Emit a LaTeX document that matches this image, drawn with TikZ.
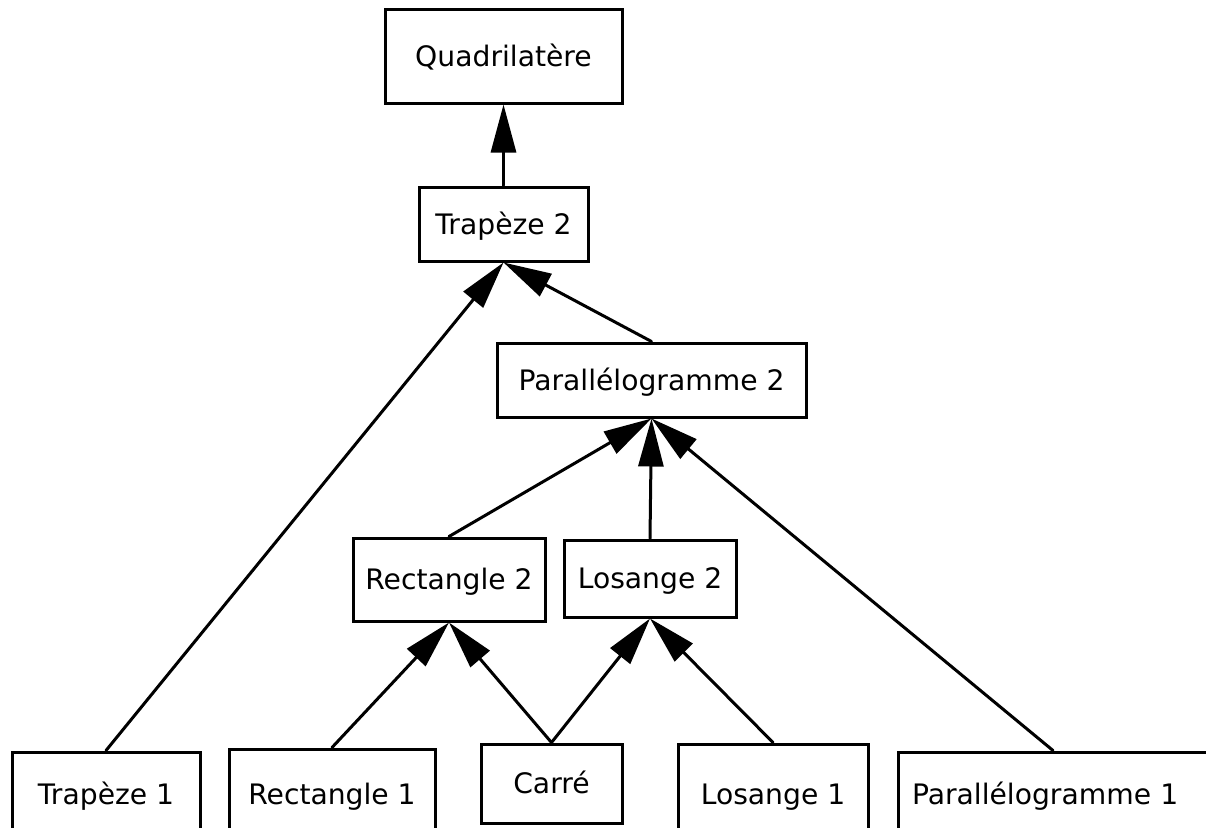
\documentclass[tikz,border=0pt]{standalone}
\usepackage{fontspec}
\setmainfont{DejaVu Sans}
\usetikzlibrary{arrows.meta}
\begin{document}
\begin{tikzpicture}[line cap=round,x=1pt,y=-1pt,
  box/.style={draw,line width=3pt,inner sep=0pt,font=\fontsize{28.2}{34}\selectfont,text height=20.5pt,text depth=0pt},
  arr/.style={-{Triangle[length=48pt,width=25pt]},line width=3pt}]
\useasboundingbox (0,0) rectangle (1206,827);
\clip (0,0) rectangle (1206,827);
\node[box,minimum width=237pt,minimum height=94pt] (quad) at (503.5,56) {Quadrilatère};
\node[box,minimum width=169pt,minimum height=74pt] (trap2) at (503.5,224) {Trapèze 2};
\node[box,minimum width=309pt,minimum height=74pt] (para2) at (651.5,380) {Parallélogramme 2};
\node[box,minimum width=192pt,minimum height=83pt] (rect2) at (449,579.5) {Rectangle 2};
\node[box,minimum width=172pt,minimum height=77pt] (los2) at (650,578.5) {Losange 2};
\node[box,minimum width=188pt,minimum height=84pt] (trap1) at (106,794) {Trapèze 1};
\node[box,minimum width=206pt,minimum height=90pt] (rect1) at (332,794) {Rectangle 1};
\node[box,minimum width=141pt,minimum height=79pt] (carre) at (551.5,783.5) {Carré};
\node[box,minimum width=190pt,minimum height=100pt] (los1) at (773,794) {Losange 1};
\node[box,minimum width=310pt,minimum height=84pt,text width=282pt,align=left] (para1) at (1053,794) {Parallélogramme 1};
\draw[arr] (trap2.north) -- (quad.south);
\draw[arr] (trap1.north) -- (trap2.south);
\draw[arr] (para2.north) -- (trap2.south);
\draw[arr] (rect2.north) -- (para2.south);
\draw[arr] (los2.north) -- (para2.south);
\draw[arr] (para1.north) -- (para2.south);
\draw[arr] (rect1.north) -- (rect2.south);
\draw[arr] (carre.north) -- (rect2.south);
\draw[arr] (carre.north) -- (los2.south);
\draw[arr] (los1.north) -- (los2.south);
\end{tikzpicture}
\end{document}
